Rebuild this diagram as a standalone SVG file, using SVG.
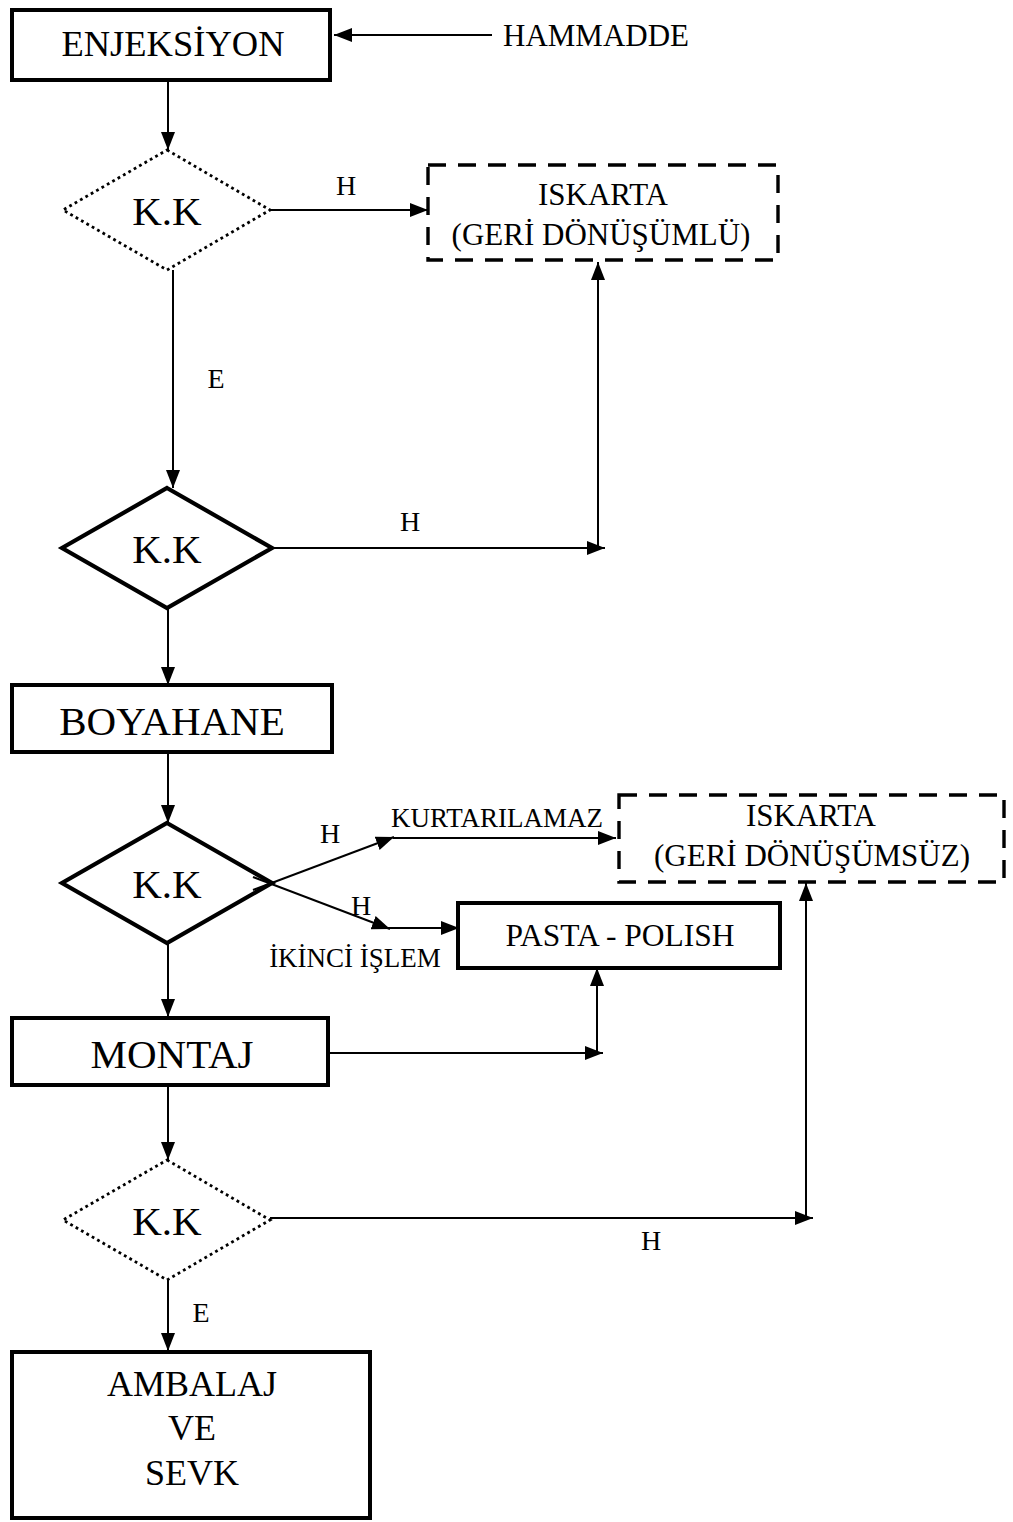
<svg xmlns="http://www.w3.org/2000/svg" width="1013" height="1522" viewBox="0 0 1013 1522">
  <style>
    text { font-family: "Liberation Serif", "Times New Roman", serif; fill: #000; }
    .box { fill: #fff; stroke: #000; stroke-width: 4; }
    .dash { fill: #fff; stroke: #000; stroke-width: 3.4; stroke-dasharray: 18 12; }
    .dia { fill: #fff; stroke: #000; stroke-width: 4.2; stroke-linejoin: miter; }
    .dot { fill: #fff; stroke: #000; stroke-width: 2.8; stroke-dasharray: 2.8 3.4; }
    .ca { fill: none; stroke: #000; stroke-width: 2; marker-end: url(#arr); }
    .big { font-size: 36px; text-anchor: middle; }
    .huge { font-size: 41px; text-anchor: middle; }
    .kk { font-size: 41px; text-anchor: middle; }
    .mid { font-size: 31px; text-anchor: middle; }
    .lbl { font-size: 27px; text-anchor: middle; }
    .hl { font-size: 28px; text-anchor: middle; }
  </style>
  <defs>
    <marker id="arr" markerUnits="userSpaceOnUse" markerWidth="19" markerHeight="15" refX="18" refY="7" orient="auto">
      <path d="M0,0 L18,7 L0,14 z" fill="#000"/>
    </marker>
  </defs>

  <rect width="1013" height="1522" fill="#fff"/>

  <!-- process steps -->
  <g id="hammadde">
    <text x="503" y="46" style="font-size:31px">HAMMADDE</text>
  </g>

  <g id="enjeksiyon">
    <rect class="box" x="12" y="10" width="318" height="70"/>
    <text class="big" x="173" y="56" style="font-size:36.5px">ENJEKSİYON</text>
  </g>

  <g id="kk1">
    <polygon class="dot" points="167,150 270,210 167,270 63,210"/>
    <text class="kk" x="167" y="225">K.K</text>
  </g>

  <g id="iskarta1">
    <rect class="dash" x="428" y="165" width="350" height="95"/>
    <text class="mid" x="603" y="205">ISKARTA</text>
    <text class="mid" x="601" y="245">(GERİ DÖNÜŞÜMLÜ)</text>
  </g>

  <g id="kk2">
    <polygon class="dia" points="167,488 272,548 167,608 62,548"/>
    <text class="kk" x="167" y="563">K.K</text>
  </g>

  <g id="boyahane">
    <rect class="box" x="12" y="685" width="320" height="67"/>
    <text class="huge" x="172" y="735">BOYAHANE</text>
  </g>

  <g id="kk3">
    <polygon class="dia" points="167,823 272,883 167,943 62,883"/>
    <text class="kk" x="167" y="898">K.K</text>
  </g>

  <g id="iskarta2">
    <rect class="dash" x="619" y="795" width="385" height="87"/>
    <text class="mid" x="811" y="826">ISKARTA</text>
    <text class="mid" x="812" y="866">(GERİ DÖNÜŞÜMSÜZ)</text>
  </g>

  <g id="pasta-polish">
    <rect class="box" x="458" y="903" width="322" height="65"/>
    <text class="mid" x="620" y="946" style="font-size:31.5px">PASTA - POLISH</text>
  </g>

  <g id="montaj">
    <rect class="box" x="12" y="1018" width="316" height="67"/>
    <text class="huge" x="172" y="1068">MONTAJ</text>
  </g>

  <g id="kk4">
    <polygon class="dot" points="167,1160 270,1220 167,1280 63,1220"/>
    <text class="kk" x="167" y="1235">K.K</text>
  </g>

  <g id="ambalaj">
    <rect class="box" x="12" y="1352" width="358" height="166"/>
    <text class="big" x="192" y="1396">AMBALAJ</text>
    <text class="big" x="192" y="1440">VE</text>
    <text class="big" x="192" y="1485">SEVK</text>
  </g>

  <!-- connectors, drawn over the shapes so the forked branch crosses at the diamond corner -->
  <g id="connectors">
    <line class="ca" x1="492" y1="35" x2="334" y2="35"/>
    <line class="ca" x1="168" y1="80" x2="168" y2="150"/>
    <line class="ca" x1="270" y1="210" x2="428" y2="210"/>
    <line class="ca" x1="173" y1="270" x2="173" y2="488"/>
    <line class="ca" x1="272" y1="548" x2="605" y2="548"/>
    <line class="ca" x1="598" y1="548" x2="598" y2="262"/>
    <line class="ca" x1="168" y1="608" x2="168" y2="685"/>
    <line class="ca" x1="168" y1="752" x2="168" y2="823"/>
    <!-- KURTARILAMAZ branch -->
    <line class="ca" x1="253" y1="890" x2="394" y2="837"/>
    <line class="ca" x1="393" y1="838" x2="616" y2="838"/>
    <!-- İKİNCİ İŞLEM branch -->
    <line class="ca" x1="253" y1="877" x2="390" y2="929"/>
    <line class="ca" x1="385" y1="928" x2="459" y2="928"/>
    <line class="ca" x1="168" y1="943" x2="168" y2="1017"/>
    <line class="ca" x1="330" y1="1053" x2="603" y2="1053"/>
    <line class="ca" x1="597" y1="1053" x2="597" y2="968"/>
    <line class="ca" x1="168" y1="1085" x2="168" y2="1160"/>
    <line class="ca" x1="270" y1="1218" x2="813" y2="1218"/>
    <line class="ca" x1="806" y1="1218" x2="806" y2="883"/>
    <line class="ca" x1="168" y1="1280" x2="168" y2="1351"/>

    <text class="hl" x="346" y="195">H</text>
    <text class="hl" x="216" y="388">E</text>
    <text class="hl" x="410" y="531">H</text>
    <text class="hl" x="330" y="843">H</text>
    <text class="lbl" x="497" y="827">KURTARILAMAZ</text>
    <text class="hl" x="361" y="915">H</text>
    <text class="lbl" x="355" y="967">İKİNCİ İŞLEM</text>
    <text class="hl" x="651" y="1250">H</text>
    <text class="hl" x="201" y="1322">E</text>
  </g>
</svg>
